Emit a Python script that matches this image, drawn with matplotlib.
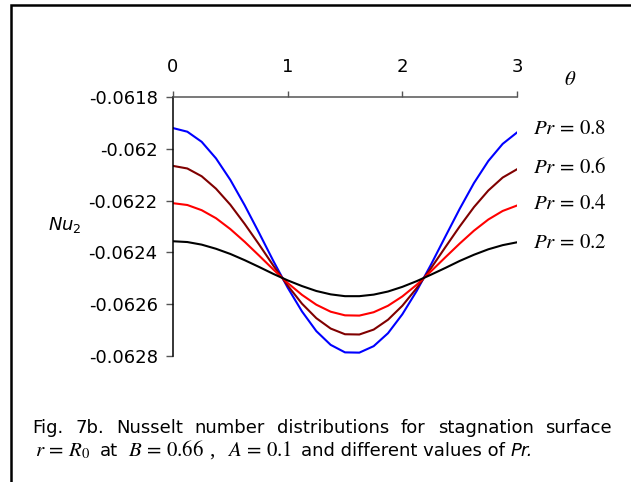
import numpy as np
import matplotlib
matplotlib.use('Agg')
import matplotlib.pyplot as plt
from matplotlib.patches import Rectangle

# values
theta = [0, 0.125, 0.25, 0.375, 0.5, 0.625, 0.75, 0.875, 1.0, 1.125, 1.25, 1.375,
         1.5, 1.625, 1.75, 1.875, 2.0, 2.125, 2.25, 2.375, 2.5, 2.625, 2.75, 2.875, 3.0]

nu_pr08 = [-0.061920, -0.061934, -0.061973, -0.062037, -0.062120, -0.062218, -0.062324,
           -0.062433, -0.062536, -0.062628, -0.062704, -0.062757, -0.062786, -0.062787,
           -0.062762, -0.062712, -0.062639, -0.062549, -0.062447, -0.062339, -0.062232,
           -0.062132, -0.062047, -0.061981, -0.061937]
nu_pr06 = [-0.062066, -0.062076, -0.062106, -0.062154, -0.062216, -0.062290, -0.062369,
           -0.062451, -0.062528, -0.062598, -0.062654, -0.062694, -0.062716, -0.062717,
           -0.062698, -0.062660, -0.062606, -0.062538, -0.062461, -0.062380, -0.062300,
           -0.062225, -0.062161, -0.062111, -0.062079]
nu_pr04 = [-0.062210, -0.062217, -0.062237, -0.062268, -0.062310, -0.062359, -0.062412,
           -0.062466, -0.062518, -0.062564, -0.062602, -0.062629, -0.062643, -0.062644,
           -0.062631, -0.062606, -0.062570, -0.062525, -0.062473, -0.062419, -0.062366,
           -0.062316, -0.062273, -0.062240, -0.062219]
nu_pr02 = [-0.062357, -0.062360, -0.062370, -0.062386, -0.062406, -0.062430, -0.062456,
           -0.062483, -0.062508, -0.062530, -0.062549, -0.062562, -0.062569, -0.062569,
           -0.062563, -0.062551, -0.062533, -0.062511, -0.062486, -0.062460, -0.062433,
           -0.062409, -0.062388, -0.062372, -0.062361]

pr_labels = ['0.8', '0.6', '0.4', '0.2']
label_y = [-0.061919, -0.062069, -0.062208, -0.062359]
x_ticks = [0, 1, 2, 3]
y_ticks = [-0.0618, -0.062, -0.0622, -0.0624, -0.0626, -0.0628]

caption1 = 'Fig. 7b. Nusselt number distributions for stagnation surface'

W, H = 631, 482
fig = plt.figure(figsize=(W / 100, H / 100), dpi=100)


def fx(px):
    return px / W


def fy(py):
    return 1 - py / H


ax = fig.add_axes([fx(173), fy(356), fx(517) - fx(173), fy(97) - fy(356)])

series = [nu_pr08, nu_pr06, nu_pr04, nu_pr02]
colors = ['#0000ff', '#800000', '#ff0000', '#000000']
for vals, c in zip(series, colors):
    ax.plot(theta, vals, color=c, lw=1.5)

ax.set_xlim(0, 3)
ax.set_ylim(-0.0628, -0.0618)
ax.xaxis.tick_top()
ax.set_xticks(x_ticks)
ax.set_xticklabels([str(v) for v in x_ticks])
ax.set_yticks(y_ticks)
ax.set_yticklabels(['%g' % v for v in y_ticks])

for s in ['bottom', 'right']:
    ax.spines[s].set_visible(False)
ax.spines['top'].set_color('#555555')
ax.spines['top'].set_linewidth(1.1)
ax.spines['left'].set_color('black')
ax.spines['left'].set_linewidth(1.1)

ax.tick_params(axis='x', direction='out', length=4, width=1, color='#555555',
               pad=11, labelsize=13)
ax.tick_params(axis='y', direction='out', length=5, width=1, color='#555555',
               pad=6, labelsize=13)

# curve labels
for lab, yv in zip(pr_labels, label_y):
    ax.text(3.14, yv, r'$Pr\,=\,%s$' % lab, fontsize=15, math_fontfamily='stix',
            va='center', ha='left', clip_on=False)

fig.text(fx(570), fy(79), r'$\theta$', fontsize=15, math_fontfamily='stix',
         ha='center', va='center')
fig.text(fx(48), fy(225), r'$\mathit{Nu}_2$', fontsize=13,
         math_fontfamily='dejavusans', ha='left', va='center')

# frame around the figure
fig.patches.append(Rectangle((fx(11), -0.1), 1.2, fy(4.5) + 0.1,
                             transform=fig.transFigure, fill=False,
                             lw=1.8, ec='black'))

renderer = fig.canvas.get_renderer()

# caption line 1, justified
words = caption1.split()
texts = [fig.text(0, fy(433), w, fontsize=13, va='baseline') for w in words]
widths = [t.get_window_extent(renderer).width for t in texts]
gap = (612 - 32 - sum(widths)) / (len(words) - 1)
x = 32
for t, w in zip(texts, widths):
    t.set_x(fx(x))
    x += w + gap

# caption line 2, pieces placed one after another
base2 = fy(456)
pieces = [
    (r'$r\,=\,R_0$', dict(fontsize=15, math_fontfamily='stix'), 10),
    ('at', dict(fontsize=13), 10),
    (r'$B\,=\,0.66$', dict(fontsize=15, math_fontfamily='stix'), 5),
    (',', dict(fontsize=15, family='Liberation Serif'), 12),
    (r'$A\,=\,0.1$', dict(fontsize=15, math_fontfamily='stix'), 9),
    ('and different values of', dict(fontsize=13), 6),
    ('Pr.', dict(fontsize=13, style='italic'), 0),
]
x = 35
for s, kw, after in pieces:
    t = fig.text(fx(x), base2, s, va='baseline', **kw)
    x += t.get_window_extent(renderer).width + after

fig.savefig('out.png', dpi=100)
